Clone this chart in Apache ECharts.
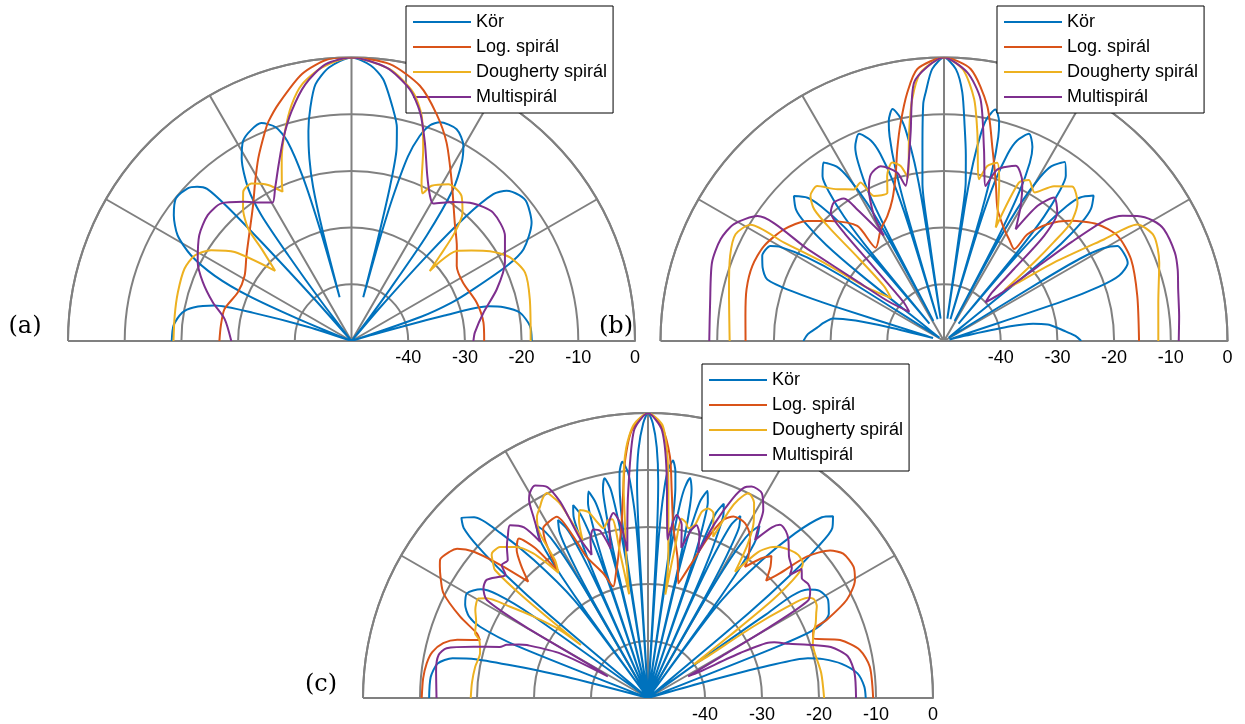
<!DOCTYPE html>
<html>
<head>
<meta charset="utf-8">
<script src="https://cdn.jsdelivr.net/npm/echarts@6/dist/echarts.min.js"></script>
<style>
html,body{margin:0;padding:0;background:#fff;}
#chart{width:1245px;height:724px;}
</style>
</head>
<body>
<div id="chart"></div>
<script>
// ---- data: [angle (deg), level (dB)] ----
const seriesNames = ['Kör', 'Log. spirál', 'Dougherty spirál', 'Multispirál'];
const radiusTicks = [-50, -40, -30, -20, -10, 0];
const panelLabels = ['(a)', '(b)', '(c)'];

const korA = [[0,-18.2],[4.8,-18.4],[9.6,-19.9],[12.5,-22.5],[14.2,-25],[15.3,-33],[16.5,-46],[18,-50],[19.2,-37],[21,-31],[23,-26.7],[25.8,-19.6],[28.1,-15.6],[33.3,-12],[38.3,-10.6],[41,-10.8],[44.1,-11.9],[46,-14],[47.4,-20],[48.5,-30],[49.5,-42],[51,-50],[52.5,-45],[53.4,-38.6],[54.5,-27.2],[56.2,-17.8],[58.3,-13],[60.2,-10.3],[63.6,-8.3],[68,-8.4],[70,-9.5],[71.6,-11.9],[73,-16],[74,-24],[74.6,-33],[75,-42],[75.4,-33],[76,-22],[76.8,-15.2],[78,-11.5],[79.8,-8.5],[83.1,-3.5],[86,-1.3],[90,0],[94.7,-1.6],[98,-4.3],[100,-8.2],[101.6,-12.2],[103,-17],[104,-22],[104.7,-30],[105.2,-42],[105.7,-30],[106.5,-20],[107.8,-13],[109.5,-10],[112.5,-8.4],[115.5,-8.8],[118.5,-9.9],[121,-12.4],[124.1,-17.5],[125.6,-22.7],[126.4,-31.2],[127.4,-41.4],[129.5,-50],[131.5,-40],[132.3,-26.4],[132.8,-17.6],[133.5,-13],[135,-11.5],[137,-10.5],[140.9,-10.1],[144.7,-11.6],[148.7,-14.1],[151.9,-17.9],[154.5,-23.3],[156.3,-30.1],[157.5,-40],[159,-50],[162,-42],[164,-32],[165.5,-25],[168,-21.5],[170.5,-19.7],[175,-18.5],[180,-18.3]];
const logA = [[0,-26.6],[7.9,-26.5],[17,-26.9],[27.6,-27.8],[35.5,-27.2],[42,-25],[48.9,-22.3],[57.7,-16.9],[64.4,-11.2],[69.4,-7.3],[75,-3.4],[82.1,-0.7],[90,0],[94.6,-0.1],[100.5,-2.1],[107.2,-6.3],[110.7,-8.6],[112.4,-10],[117,-13.8],[121.2,-17.2],[125.9,-20.4],[132.1,-23.3],[140.8,-26.1],[148.5,-27.9],[156.8,-28.2],[165.9,-26.9],[173.4,-26.8],[180,-26.7]];
const dougA = [[0,-18.4],[13.2,-17.7],[21.5,-17.1],[27.8,-18.4],[33,-20.9],[37,-23.5],[40.6,-25.6],[41.8,-31.5],[43.9,-28.4],[46.4,-23.6],[49.1,-20.1],[52.8,-17.9],[58.3,-17.5],[62.7,-19.2],[64.3,-21.1],[66.1,-19.5],[69.5,-13.9],[72.7,-8.4],[76.1,-4.8],[82,-1.6],[90,0],[96.2,-1.5],[100.9,-3.9],[104.2,-7],[107.6,-11.2],[110.9,-15.5],[113.6,-19.3],[114.8,-21],[118.1,-18.8],[122.4,-17.1],[126,-17.5],[129.3,-19.8],[132.6,-23.1],[134.3,-27.3],[137.4,-31.7],[142.7,-24.1],[147.1,-20.5],[151.4,-18.5],[156.6,-17.9],[164.4,-18.2],[171.9,-18.5],[180,-18.6]];
const multiA = [[0,-28.5],[3.9,-28.2],[12.1,-26.2],[19.6,-22.8],[27.1,-19.6],[34.4,-17.2],[42.2,-16.3],[48.5,-17.6],[53.8,-19.6],[59.3,-21.8],[61.6,-20.9],[65.4,-17.9],[69.7,-12.7],[73.3,-7.9],[77,-4.4],[82.7,-1.4],[90,0],[95.4,-1],[100.2,-4],[104.6,-8.1],[108.5,-12.2],[112.5,-16.4],[116.6,-19.9],[119.7,-21.9],[123,-20.9],[127.9,-18.9],[133.4,-16.6],[138.8,-16.3],[145.2,-17.3],[152.8,-19.5],[158.4,-21.8],[164.4,-24.6],[170.2,-27.3],[180,-28.8]];

const korB = [[0,-25.8],[2.2,-26.8],[4.5,-28.5],[6.7,-29.9],[9,-31.5],[11,-34],[12.5,-38],[14,-46],[16,-49],[18,-46],[18.5,-28],[19.3,-21],[20.5,-17],[23,-14.8],[26,-14.7],[28.7,-15.1],[30.2,-17.5],[31.2,-22],[31.6,-30],[32,-46],[35,-49],[38.5,-46],[39,-31.2],[39.7,-23.2],[40.8,-17.8],[42,-15.1],[44.2,-13.2],[46.5,-15.1],[47.7,-17.8],[48.8,-23.2],[49.5,-31.2],[50,-46],[50.5,-29.9],[51.2,-21.9],[52.4,-16.5],[53.6,-13.8],[56,-11.9],[58.4,-13.8],[59.6,-16.5],[60.8,-21.9],[61.5,-29.9],[62,-46],[62.5,-28.5],[63.2,-20.5],[64.3,-15.1],[65.5,-12.4],[67.7,-10.5],[70,-12.4],[71.2,-15.1],[72.3,-20.5],[73,-28.5],[73.5,-46],[73.8,-26.2],[74.3,-18.2],[75.1,-12.8],[75.9,-10.1],[77.5,-8.2],[79.1,-10.1],[79.9,-12.8],[80.7,-18.2],[81.2,-26.2],[81.5,-46],[81.9,-30],[82.2,-21.8],[83.3,-17],[84.5,-12],[85.8,-6],[87.5,-2],[90,0],[92.5,-2],[94.2,-6],[95,-8],[96.4,-15.9],[97.8,-22],[98.2,-30],[98.6,-46],[98.9,-26.1],[99.4,-18.1],[100.2,-12.7],[101,-10],[102.5,-8.1],[104.1,-10],[104.9,-12.7],[105.7,-18.1],[106.2,-26.1],[106.5,-46],[107,-28.5],[107.7,-20.5],[108.8,-15.1],[110,-12.4],[112.3,-10.5],[114.6,-12.4],[115.7,-15.1],[116.9,-20.5],[117.5,-28.5],[118,-46],[118.5,-30],[119.2,-22],[120.4,-16.6],[121.6,-13.9],[124,-12],[126.4,-13.9],[127.6,-16.6],[128.8,-22],[129.5,-30],[130,-46],[130.5,-31.2],[131.2,-23.2],[132.4,-17.8],[133.6,-15.1],[136,-13.2],[138.4,-15.1],[139.6,-17.8],[140.8,-23.2],[141.5,-31.2],[142,-46],[144.5,-49],[147,-46],[147.6,-28.6],[148.6,-21.6],[150.2,-16.5],[151.3,-15.1],[154.9,-14.6],[158,-15.5],[160.8,-17],[161.9,-22],[162.5,-30],[163,-46],[165,-48],[166,-40],[167,-34],[168.5,-30],[171.5,-28.5],[174,-27.5],[177,-26],[180,-25.2]];
const logB = [[0,-15.6],[13.1,-15],[23.6,-14],[31.2,-14.2],[37.3,-16],[43.5,-19.2],[48.5,-22.5],[52,-26.1],[52.6,-29.6],[57,-28.8],[61.7,-27.6],[67.9,-24.9],[71.9,-20.6],[75.8,-15.1],[79.6,-7.8],[84.4,-1.8],[90,0],[95.6,-1.8],[98.4,-5.7],[101.2,-10.7],[103.7,-15.2],[106.3,-19.6],[110,-23.4],[114.4,-25.8],[119.6,-27.4],[126.2,-29.6],[127,-24.6],[133.4,-20.9],[138.7,-17.9],[145.1,-15.6],[152.2,-14.1],[158.6,-13.7],[165.3,-14],[172.8,-14.7],[180,-15]];
const dougB = [[0,-12.2],[10.2,-11.6],[20,-9.6],[26.6,-8.6],[31.1,-10.2],[32.4,-16.5],[35.5,-26.2],[38,-33],[40,-36],[41.2,-28.5],[42,-24],[43,-19.4],[46,-16.1],[50.3,-14.6],[54.6,-16.5],[58.6,-19.3],[62.2,-17.9],[64.7,-19.1],[65.5,-28],[66.9,-26],[70.8,-20.4],[73.4,-17.2],[76.1,-18.2],[77.8,-20.8],[80.9,-12.8],[82.9,-7],[86,-2],[90,0],[95,-2.5],[97.5,-7],[99.5,-12.7],[102.4,-20.5],[103.9,-18.2],[106.2,-17.2],[109,-19.2],[110.9,-22],[115.8,-21.6],[117.8,-18.4],[120.7,-18.9],[125.1,-17.3],[129.3,-14.7],[132.6,-15.2],[134.6,-17.4],[135.4,-21.9],[135.8,-28.2],[137.5,-35.6],[141,-38],[145.5,-33],[146.9,-24.7],[148.4,-16.9],[149,-10.2],[152.9,-8.7],[158.3,-9.4],[166.5,-11],[180,-12.2]];
const multiB = [[0,-8.6],[6,-8.3],[12.5,-7.7],[17,-6.9],[21,-6.4],[26.9,-6.5],[30,-7.5],[32.9,-9.4],[35,-11.5],[36.8,-14.4],[37.8,-21.4],[38.5,-29.2],[40,-37],[43,-40],[45.3,-38],[45.8,-32.3],[46.4,-24.4],[48.6,-19.8],[52.5,-18.1],[55.3,-21],[57.3,-26.6],[60.4,-22.6],[63.7,-18.8],[67.7,-16.6],[72.7,-18.3],[75,-21.7],[78.2,-15.5],[81.4,-6.9],[85,-2.5],[90,0],[96.6,-4.1],[99.1,-12.8],[101.5,-18.5],[103.9,-21.8],[105.5,-19.2],[109.9,-17.2],[113.7,-17.9],[116.3,-20.1],[119.2,-24.7],[119.7,-28.6],[123.4,-22.2],[125.1,-19.3],[128.5,-18.8],[131.4,-19.8],[132.7,-24],[133.5,-31.5],[135,-38],[136.2,-40.2],[140,-42],[144.5,-38],[145.5,-31.6],[146,-21],[146.2,-10.4],[150.9,-7.6],[155.5,-6.7],[161.3,-6.8],[170.7,-8.2],[180,-8.6]];

const korC = [[0,-11.8],[3,-12],[6.7,-13],[10,-15.5],[12.5,-18.5],[14,-21.1],[15,-28],[15.8,-40],[16.5,-50],[18.5,-50],[20.7,-50],[21.7,-25],[22.5,-18],[25,-15],[28.7,-14],[32,-14.5],[34.2,-16.1],[35.3,-25],[36.3,-50],[38,-50],[39.5,-50],[40.1,-27],[40.8,-17],[41.7,-10],[42.7,-6],[44.5,-4.5],[46.1,-6],[48.2,-11.2],[50.4,-18.6],[53,-28.5],[53.7,-40],[54,-50],[54.2,-32],[54.6,-24],[55.2,-18.6],[55.9,-15.9],[57.1,-14],[58.3,-15.9],[59,-18.6],[59.6,-24],[60,-32],[60.2,-50],[60.4,-32.2],[60.8,-24.2],[61.4,-18.8],[61.9,-16.1],[63.1,-14.2],[64.3,-16.1],[64.8,-18.8],[65.4,-24.2],[65.8,-32.2],[66,-50],[66.2,-31.4],[66.5,-23.4],[67.1,-18],[67.6,-15.3],[68.7,-13.4],[69.8,-15.3],[70.3,-18],[70.9,-23.4],[71.2,-31.4],[71.4,-50],[71.6,-30.2],[71.9,-22.2],[72.5,-16.8],[73,-14.1],[74,-12.2],[75.1,-14.1],[75.6,-16.8],[76.2,-22.2],[76.5,-30.2],[76.7,-50],[76.9,-28.7],[77.2,-20.7],[77.7,-15.3],[78.2,-12.6],[79.2,-10.7],[80.1,-12.6],[80.6,-15.3],[81.1,-20.7],[81.4,-28.7],[81.6,-50],[81.8,-26.1],[82.1,-18.1],[82.6,-12.7],[83.1,-10],[84,-8.1],[85,-10],[85.5,-12.7],[86,-18.1],[86.3,-26.1],[86.5,-50],[86.8,-25],[87.3,-12],[88,-6],[89,-1.8],[90,0],[91,-1.8],[92.2,-6.4],[92.9,-12],[93.3,-25],[93.5,-50],[93.7,-26.3],[94,-18.3],[94.6,-12.9],[95.1,-10.2],[96.2,-8.3],[97.2,-10.2],[97.7,-12.9],[98.3,-18.3],[98.6,-26.3],[98.8,-50],[99,-28.7],[99.3,-20.7],[99.8,-15.3],[100.2,-12.6],[101.2,-10.7],[102.2,-12.6],[102.6,-15.3],[103.1,-20.7],[103.4,-28.7],[103.6,-50],[103.8,-30.3],[104.1,-22.3],[104.6,-16.9],[105.1,-14.2],[106.1,-12.3],[107.1,-14.2],[107.6,-16.9],[108.1,-22.3],[108.4,-30.3],[108.6,-50],[108.8,-31.7],[109.1,-23.7],[109.7,-18.3],[110.2,-15.6],[111.2,-13.7],[112.3,-15.6],[112.8,-18.3],[113.4,-23.7],[113.7,-31.7],[113.9,-50],[114.1,-33],[114.5,-25],[115.1,-19.6],[115.7,-16.9],[116.8,-15],[118,-16.9],[118.6,-19.6],[119.2,-25],[119.6,-33],[119.8,-50],[120,-31.9],[120.4,-23.9],[121,-18.5],[121.7,-15.8],[122.9,-13.9],[124.1,-15.8],[124.8,-18.5],[125.4,-23.9],[125.8,-31.9],[126,-50],[126.3,-40],[127,-28.5],[129.6,-18.6],[131.8,-11.2],[133.9,-6],[136,-4.5],[137.3,-6],[138.3,-10],[139.2,-17],[139.9,-27],[140.5,-50],[142,-50],[143.5,-50],[144.5,-25],[145.5,-18],[147,-15],[150,-13.3],[153,-14],[155.5,-15.5],[157,-18],[158.3,-25],[159.3,-50],[162,-50],[164.5,-50],[165.5,-35],[166.5,-26],[167.3,-19],[168.5,-15],[170.7,-12.6],[174.5,-11.7],[180,-11.6]];
const logC = [[0,-10.5],[8,-10.7],[12.8,-11.9],[16.8,-14.8],[19.9,-19.2],[22.4,-18.6],[23.6,-15.8],[26.3,-11.1],[29.7,-8.2],[32.6,-7.2],[36.5,-7.4],[39,-8.9],[41.7,-12.7],[43.4,-18.1],[44.8,-20.8],[47,-18.5],[49,-17],[51,-18.5],[53.5,-21.4],[54.6,-19.6],[57.7,-16.5],[61,-14.9],[64.8,-14.8],[67,-16],[69.5,-20],[72,-25],[75.2,-29.2],[78,-25],[81.6,-19.6],[83.5,-13.3],[84.8,-7.5],[87,-2.5],[90,0],[93.5,-3],[95.5,-8.1],[96.8,-13.3],[98.6,-19],[101.9,-24.7],[104.5,-27.5],[107.3,-29.5],[109.7,-26.8],[113.5,-23],[114.8,-18.8],[116.7,-14.4],[119,-14.5],[121.7,-15],[123.1,-16.9],[124.3,-20],[125.4,-22.8],[127,-17],[129,-14],[131.6,-15.3],[133.9,-18],[135.8,-20.7],[138,-15],[140,-10],[142,-7.5],[143.5,-6.8],[146.4,-6.2],[147.7,-6.8],[150,-8],[152.9,-9.7],[156.6,-14.1],[159.3,-17.9],[161,-18.8],[163,-15],[165,-12.8],[168,-11.3],[171.1,-10.7],[175,-10.4],[180,-10.3]];
const dougC = [[0,-19.1],[8.2,-19.3],[15.1,-19.7],[18,-19.6],[21.4,-18.8],[24,-17.8],[26.9,-16.9],[28.5,-16.3],[30.7,-16.1],[32.1,-16.9],[33.2,-21],[34.2,-28],[35,-38],[36.2,-40],[37.3,-32],[38.2,-22],[39.5,-16],[41,-14],[43.6,-13.6],[46,-14],[49.3,-15],[51,-16],[53,-18],[55.4,-23.1],[57,-18],[59,-14],[61.5,-11],[63.9,-10],[65.5,-11.8],[66.5,-14],[68,-19.5],[69,-18],[70.5,-15.6],[72.4,-15.1],[73.9,-16],[74.8,-18.5],[76.6,-19.4],[77.8,-18.5],[79.4,-18],[79.8,-22],[80.5,-31.6],[81.5,-26],[82.8,-21.5],[84.4,-13.3],[85.5,-7],[87,-2],[90,0],[93,-2],[95,-6],[96.5,-12],[97.6,-19.7],[99,-26],[100.3,-31.5],[100.9,-24],[101.3,-18],[102.6,-18],[104.7,-19.2],[106.2,-17.8],[107.8,-15.7],[109.9,-14.9],[111.2,-16.5],[112.5,-20],[113.5,-16],[114.2,-13],[115,-11.5],[116.3,-9.9],[118,-10.5],[119.5,-11.5],[121.5,-12.7],[123.3,-15.4],[124,-20.8],[125.6,-23],[126.9,-20.4],[128.4,-17.6],[131,-14.9],[134.4,-12.9],[136.6,-12.6],[137.5,-12.8],[139,-14],[140.1,-15],[141,-22],[141.7,-35],[142.3,-30.5],[144.6,-25.3],[146.5,-21],[148.3,-16.7],[149.6,-15.5],[153,-16],[156,-17],[159.5,-17.6],[161,-18.7],[165,-19.5],[169.7,-19.2],[175,-19],[180,-18.9]];
const multiC = [[0,-13.5],[6.9,-13.5],[11.8,-14.2],[15.6,-16.7],[18.5,-20.5],[21,-23.5],[23.8,-25.8],[24.5,-26.5],[26,-32],[27,-40],[28.3,-42],[29.5,-35],[30.3,-25],[31.4,-17],[33.7,-15.8],[35.5,-15.5],[37.9,-15.8],[40,-14.8],[41,-17],[42.1,-16],[45,-15],[48.4,-12.9],[50.5,-12],[52.7,-11.8],[54,-13],[55.9,-16.5],[57.2,-14.2],[58.5,-11.3],[60.9,-8.9],[63.9,-8.7],[65.5,-9.5],[67,-12],[69,-17],[71,-23],[72.5,-20],[74.3,-18.5],[75.5,-19.5],[77.5,-23],[79,-19],[81.1,-17.5],[83,-22],[84,-18],[85,-12],[87,-3],[90,0],[93,-3],[95.4,-13.3],[97,-20.3],[98,-24],[99,-19],[100.6,-17],[102.5,-18.5],[104,-23],[106,-19.5],[108,-18.9],[110,-20.5],[111.5,-23],[113,-20],[113.7,-15.3],[114.1,-12.3],[115.5,-9],[118,-7.8],[120,-8.5],[121,-9.5],[122.3,-12.4],[123.7,-15.3],[124.6,-16.7],[126,-13],[128.6,-11.2],[131,-12.5],[133,-13.7],[135.5,-15.5],[137.7,-15.3],[139.2,-17],[140.7,-16.4],[143.8,-14.9],[146.3,-15.3],[148.7,-16.9],[149.8,-25],[150.6,-40],[151.8,-42],[153.1,-32.7],[156.4,-26.8],[157.5,-25.5],[159.4,-23.5],[161,-22.5],[163.6,-18.1],[166.1,-13.6],[168.4,-12.5],[172.5,-12.5],[180,-12.9]];

const panels = [
  [korA, logA, dougA, multiA],
  [korB, logB, dougB, multiB],
  [korC, logC, dougC, multiC]
];

// ---- styling / layout ----
const colors = ['#0072BD', '#D95319', '#EDB120', '#7E2F8E'];
const gridColor = '#808080';
const polarLayout = [
  {center: [351.5, 341], radius: [0, 283.5]},
  {center: [944, 341], radius: [0, 283.5]},
  {center: [648, 698], radius: [0, 285]}
];
const legendPos = [{left: 406, top: 6}, {left: 997, top: 6}, {left: 702, top: 364}];
const labelPos = [[25, 327], [616, 327], [321, 685]];

const option = {
  animation: false,
  backgroundColor: '#fff',
  color: colors,
  polar: polarLayout,
  angleAxis: polarLayout.map((p, i) => ({
    polarIndex: i, type: 'value', min: 0, max: 180, interval: 30,
    startAngle: 0, endAngle: 180, clockwise: false,
    axisLine: {show: true, lineStyle: {color: gridColor, width: 2}},
    axisTick: {show: false}, axisLabel: {show: false},
    splitLine: {show: true, lineStyle: {color: gridColor, width: 2}}
  })),
  radiusAxis: polarLayout.map((p, i) => ({
    polarIndex: i, type: 'value', min: radiusTicks[0], max: radiusTicks[radiusTicks.length - 1], interval: 10,
    axisLine: {show: true, lineStyle: {color: gridColor, width: 2}},
    axisTick: {show: false},
    axisLabel: {
      show: true, color: '#000', fontSize: 18, fontFamily: 'Liberation Sans, Arial, sans-serif',
      margin: 6, verticalAlign: 'top', padding: [14, 0, 0, 0],
      formatter: v => (v === radiusTicks[0] ? '' : String(v))
    },
    splitLine: {show: true, lineStyle: {color: gridColor, width: 2}}
  })),
  legend: legendPos.map(lp => ({
    left: lp.left, top: lp.top, orient: 'vertical',
    data: seriesNames,
    icon: 'rect', itemWidth: 58, itemHeight: 2, itemGap: 5,
    padding: [6, 6, 6, 7],
    backgroundColor: '#fff', borderColor: '#000', borderWidth: 1, borderRadius: 0,
    textStyle: {fontSize: 18, lineHeight: 20, color: '#000', fontFamily: 'Liberation Sans, Arial, sans-serif'},
    selectedMode: false
  })),
  graphic: panelLabels.map((t, i) => ({
    type: 'text', x: labelPos[i][0], y: labelPos[i][1],
    style: {text: t, font: '24px "DejaVu Serif", serif', fill: '#000', textAlign: 'center', textVerticalAlign: 'middle'}
  })),
  series: []
};

panels.forEach((curves, pi) => {
  curves.forEach((curve, ci) => {
    option.series.push({
      name: seriesNames[ci], type: 'line', coordinateSystem: 'polar', polarIndex: pi,
      data: curve.map(d => [d[1], d[0]]),
      symbol: 'none', showSymbol: false, smooth: 0.25,
      lineStyle: {color: colors[ci], width: 2},
      itemStyle: {color: colors[ci]},
      z: 3 + ci
    });
  });
});

const chart = echarts.init(document.getElementById('chart'), null, {renderer: 'canvas'});
chart.setOption(option);
</script>
</body>
</html>
